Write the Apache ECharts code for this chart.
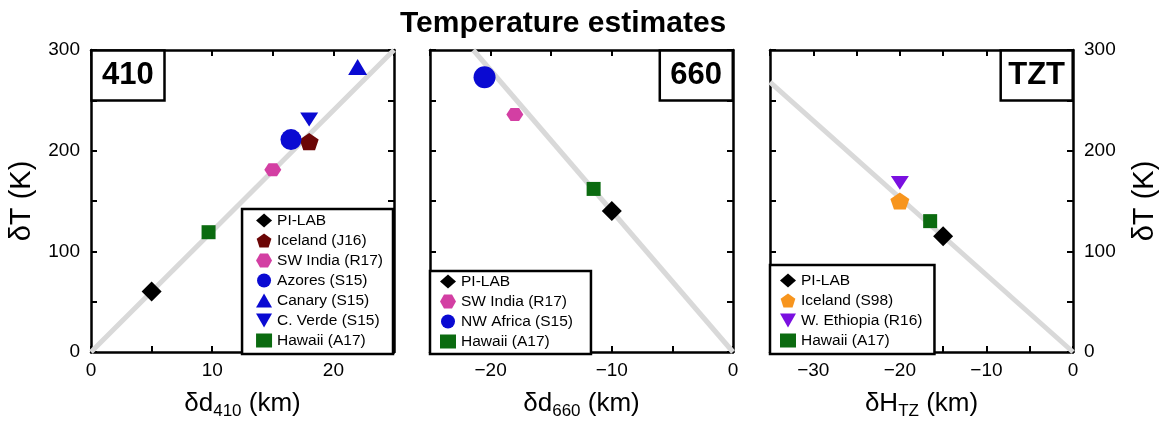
<!DOCTYPE html>
<html>
<head>
<meta charset="UTF-8">
<title>Temperature estimates</title>
<script src="https://cdn.jsdelivr.net/npm/echarts@6/dist/echarts.min.js"></script>
<style>body{margin:0;background:#fff;}</style>
</head>
<body>
<div id="main" style="width:1163px;height:425px;"></div>
<script>
// data
var names410 = ['PI-LAB', 'Iceland (J16)', 'SW India (R17)', 'Azores (S15)', 'Canary (S15)', 'C. Verde (S15)', 'Hawaii (A17)'];
var pts410 = [[5, 60], [18, 209], [15, 181], [16.5, 211], [22, 283], [18, 231], [9.7, 119]];
var line410 = [[0, 0], [25, 300]];

var names660 = ['PI-LAB', 'SW India (R17)', 'NW Africa (S15)', 'Hawaii (A17)'];
var pts660 = [[-10, 140], [-18, 236], [-20.5, 273], [-11.5, 162]];
var line660 = [[0, 0], [-21.43, 300]];

var namesTZT = ['PI-LAB', 'Iceland (S98)', 'W. Ethiopia (R16)', 'Hawaii (A17)'];
var ptsTZT = [[-15, 115], [-20, 150], [-20, 168], [-16.5, 130]];
var lineTZT = [[0, 0], [-35, 268]];

var yTicks = [0, 100, 200, 300];

var font = 'Liberation Sans, Arial, sans-serif';
var hexPath = 'path://M-1,0 L-0.5,-0.866 L0.5,-0.866 L1,0 L0.5,0.866 L-0.5,0.866 Z';
var pentPath = 'path://M0,-1 L0.951,-0.309 L0.588,0.809 L-0.588,0.809 L-0.951,-0.309 Z';
var downTri = 'path://M-1,-0.87 L1,-0.87 L0,0.87 Z';

// marker style per source
var marks = {
    'PI-LAB':            { symbol: 'diamond', size: 20, color: '#000000' },
    'Iceland (J16)':     { symbol: pentPath, size: [19, 18], color: '#6b0606' },
    'SW India (R17)':    { symbol: hexPath, size: [17, 15], color: '#d33fa3' },
    'Azores (S15)':      { symbol: 'circle', size: 21, color: '#0a0ad2' },
    'NW Africa (S15)':   { symbol: 'circle', size: 22, color: '#0a0ad2' },
    'Canary (S15)':      { symbol: 'triangle', size: [19, 16], color: '#0a0ad2' },
    'C. Verde (S15)':    { symbol: downTri, size: [18, 16], color: '#0a0ad2' },
    'Hawaii (A17)':      { symbol: 'rect', size: 14, color: '#0b6b10' },
    'Iceland (S98)':     { symbol: pentPath, size: [19, 18], color: '#f7951e' },
    'W. Ethiopia (R16)': { symbol: downTri, size: [18, 16], color: '#7a10e0' }
};

var panels = [
    { tag: '410', names: names410, pts: pts410, line: line410, left: 91, xMin: 0, xMax: 25,
      xName: '{m|δd}{s|410}{m| (km)}',
      tagPos: { left: 91 }, tagPad: [10, 11, 10, 11],
      legPos: { right: 770 }, legPad: [3, 10, 5, 14] },
    { tag: '660', names: names660, pts: pts660, line: line660, left: 430, xMin: -25, xMax: 0,
      xName: '{m|δd}{s|660}{m| (km)}',
      tagPos: { right: 430 }, tagPad: [10, 11, 10, 11],
      legPos: { left: 430 }, legPad: [2, 18, 4, 10] },
    { tag: 'TZT', names: namesTZT, pts: ptsTZT, line: lineTZT, left: 770, xMin: -35, xMax: 0,
      xName: '{m|δH}{s|TZ}{m| (km)}',
      tagPos: { right: 90 }, tagPad: [10, 8, 10, 8],
      legPos: { left: 770 }, legPad: [7, 12, 5, 10] }
];

var axisLine = { show: true, onZero: false, lineStyle: { color: '#000', width: 2.5 } };
var axisTick = { show: true, inside: true, length: 6, lineStyle: { color: '#000', width: 2 } };
var nameRich = {
    m: { fontSize: 26, fontFamily: font, color: '#000', lineHeight: 32, verticalAlign: 'middle' },
    s: { fontSize: 17, fontFamily: font, color: '#000', lineHeight: 17, verticalAlign: 'bottom' }
};

var grid = [], xAxis = [], yAxis = [], series = [], legend = [];
var title = [{
    text: 'Temperature estimates', left: 395, top: 4,
    textStyle: { fontSize: 30, fontWeight: 'bold', fontFamily: font, color: '#000' }
}];

panels.forEach(function (p, g) {
    grid.push({ left: p.left, top: 50, width: 303, height: 304 });
    var xLabel = {
        show: true, margin: 9, fontSize: 19, fontFamily: font, color: '#000',
        formatter: function (v) { return v % 10 === 0 ? String(v).replace('-', '\u2212') : ''; }
    };
    xAxis.push({
        type: 'value', gridIndex: g, position: 'bottom', min: p.xMin, max: p.xMax, interval: 5,
        axisLine: axisLine, axisTick: axisTick, splitLine: { show: false }, axisLabel: xLabel,
        name: p.xName, nameLocation: 'middle', nameGap: 36,
        nameTextStyle: { rich: nameRich }
    });
    xAxis.push({
        type: 'value', gridIndex: g, position: 'top', min: p.xMin, max: p.xMax, interval: 5,
        axisLine: axisLine, axisTick: axisTick, splitLine: { show: false }, axisLabel: { show: false }
    });
    var yLabel = {
        show: true, margin: 11, fontSize: 19, fontFamily: font, color: '#000',
        formatter: function (v) { return yTicks.indexOf(v) >= 0 ? String(v) : ''; }
    };
    var yLeft = {
        type: 'value', gridIndex: g, position: 'left', min: 0, max: 300, interval: 50,
        axisLine: axisLine, axisTick: axisTick, splitLine: { show: false },
        axisLabel: g === 0 ? yLabel : { show: false }
    };
    var yRight = {
        type: 'value', gridIndex: g, position: 'right', min: 0, max: 300, interval: 50,
        axisLine: axisLine, axisTick: axisTick, splitLine: { show: false },
        axisLabel: g === 2 ? yLabel : { show: false }
    };
    if (g === 0) {
        yLeft.name = 'δT (K)'; yLeft.nameLocation = 'middle'; yLeft.nameGap = 55;
        yLeft.nameTextStyle = { fontSize: 29, fontFamily: font, color: '#000' };
    }
    if (g === 2) {
        yRight.name = 'δT (K)'; yRight.nameLocation = 'middle'; yRight.nameGap = 57;
        yRight.nameTextStyle = { fontSize: 29, fontFamily: font, color: '#000' };
    }
    yAxis.push(yLeft, yRight);

    series.push({
        type: 'line', name: 'fit' + p.tag, xAxisIndex: 2 * g, yAxisIndex: 2 * g,
        data: p.line, showSymbol: false, silent: true, z: 1,
        lineStyle: { color: '#d9d9d9', width: 5 }
    });
    p.names.forEach(function (n, i) {
        var m = marks[n];
        series.push({
            type: 'scatter', name: n, xAxisIndex: 2 * g, yAxisIndex: 2 * g,
            data: [p.pts[i]], symbol: m.symbol, symbolSize: m.size, symbolKeepAspect: true,
            itemStyle: { color: m.color, opacity: 1 }, z: 3
        });
    });

    title.push(Object.assign({
        text: p.tag, top: 50, padding: p.tagPad,
        borderColor: '#000', borderWidth: 2.5, backgroundColor: '#fff',
        textStyle: { fontSize: 31, fontWeight: 'bold', fontFamily: font, color: '#000', lineHeight: 31 }
    }, p.tagPos));

    legend.push(Object.assign({
        data: p.names, orient: 'vertical', bottom: 71, selectedMode: false,
        backgroundColor: '#fff', borderColor: '#000', borderWidth: 2.5, borderRadius: 0,
        padding: p.legPad, itemGap: 3, itemWidth: 16, itemHeight: 14,
        textStyle: { fontSize: 15.5, lineHeight: 17, fontFamily: font, color: '#000' }
    }, p.legPos));
});

var chart = echarts.init(document.getElementById('main'));
chart.setOption({
    backgroundColor: '#fff',
    animation: false,
    title: title,
    legend: legend,
    grid: grid,
    xAxis: xAxis,
    yAxis: yAxis,
    series: series
});
</script>
</body>
</html>
